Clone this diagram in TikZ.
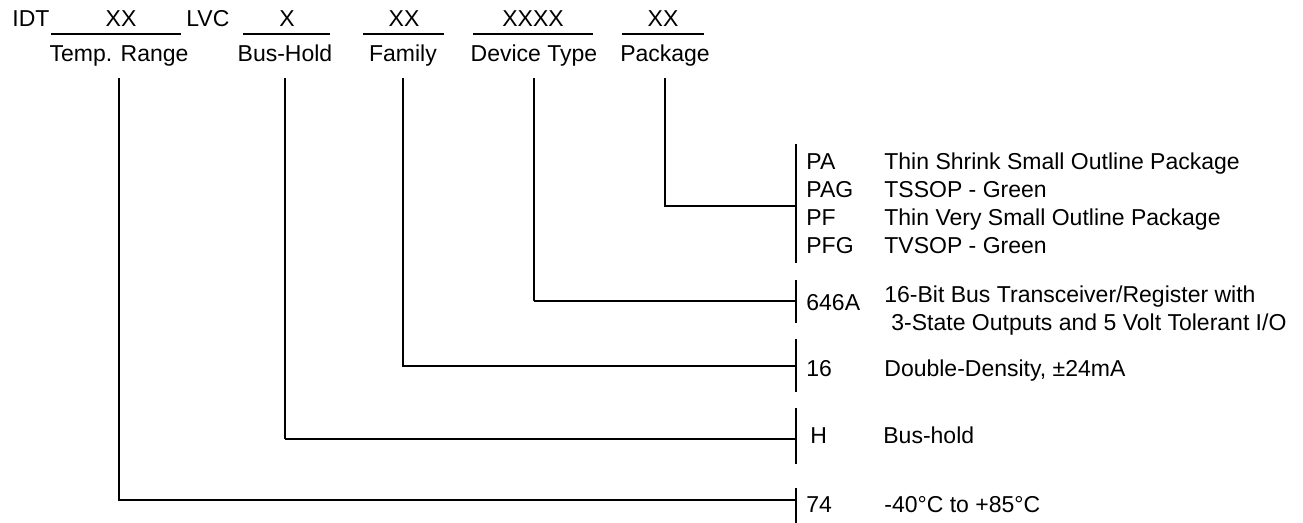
\documentclass[tikz,border=0pt]{standalone}
\usepackage{fontspec}
\setmainfont{Liberation Sans}
\usepackage{tikz}
\tikzset{lbl/.style={inner sep=0pt, anchor=base},
code/.style={inner sep=0pt, anchor=base west},
link/.style={line width=0.65pt},
heavy/.style={line width=1.2pt}}

\begin{document}
\begin{tikzpicture}[x=0.5pt, y=-0.5pt, font=\fontsize{11.5}{14}\selectfont]
\useasboundingbox (0,0) rectangle (1303,523);
\coordinate (linetop) at (0,78);
% ordering code
\node (idt) [code] at (12,27) {IDT};
\node (xtemp) [lbl] at (121,27) {XX};
\node (lvc) [code] at (186,27) {LVC};
\node (xbus) [lbl] at (287,27) {X};
\node (xfam) [lbl] at (404,27) {XX};
\node (xdev) [lbl] at (533,27) {XXXX};
\node (xpkg) [lbl] at (663,27) {XX};
\draw [link] (51,34) -- (181,34);
\draw [heavy] (243,34) -- (330,34);
\draw [link] (363,34) -- (444,34);
\draw [link] (473,34) -- (593,34);
\draw [link] (622,34) -- (704,34);
\node (temp) [lbl] at (119,62) {Temp. Range};
\node (bus) [lbl] at (285,62) {Bus-Hold};
\node (fam) [lbl] at (403,62) {Family};
\node (dev) [lbl] at (534,62) {Device Type};
\node (pkg) [lbl] at (665,62) {Package};
% package
\coordinate (pkgend) at (796,206);
\draw [link] (pkg |- linetop) |- (pkgend);
\draw [link] (796,144) -- (796,263);
\node (pa) [code] at (806,170) {PA};
\node (pag) [code] at (806,198) {PAG};
\node (pf) [code] at (806,226) {PF};
\node (pfg) [code] at (806,254) {PFG};
\node (dpa) [code] at (884,170) {Thin Shrink Small Outline Package};
\node (dpag) [code] at (884,198) {TSSOP - Green};
\node (dpf) [code] at (884,226) {Thin Very Small Outline Package};
\node (dpfg) [code] at (884,254) {TVSOP - Green};
% device type
\coordinate (devend) at (796,301);
\draw [link] (dev |- linetop) -- (dev |- devend);
\draw [heavy] (dev |- devend) -- (devend);
\draw [link] (796,280) -- (796,323);
\node (c646) [code] at (806,311) {646A};
\node (ddev) [code] at (884,303) {16-Bit Bus Transceiver/Register with};
\node (ddevb) [code] at (891,331) {3-State Outputs and 5 Volt Tolerant I/O};
% family
\coordinate (famend) at (796,366);
\draw [link] (fam |- linetop) |- (famend);
\draw [link] (796,339) -- (796,392);
\node (c16) [code] at (806,377) {16};
\node (dfam) [code] at (884,377) {Double-Density, ±24mA};
% bus-hold
\coordinate (busend) at (796,439);
\draw [heavy] (bus |- linetop) -- (bus |- busend);
\draw [link] (bus |- busend) -- (busend);
\draw [heavy] (796,408) -- (796,464);
\node (ch) [code] at (810,444) {H};
\node (dbus) [code] at (883,444) {Bus-hold};
% temp. range
\coordinate (tempend) at (796,500);
\draw [link] (temp |- linetop) |- (tempend);
\draw [link] (796,488) -- (796,523);
\node (c74) [code] at (806,513) {74};
\node (dtemp) [code] at (884,513) {-40°C to +85°C};
\end{tikzpicture}
\end{document}
